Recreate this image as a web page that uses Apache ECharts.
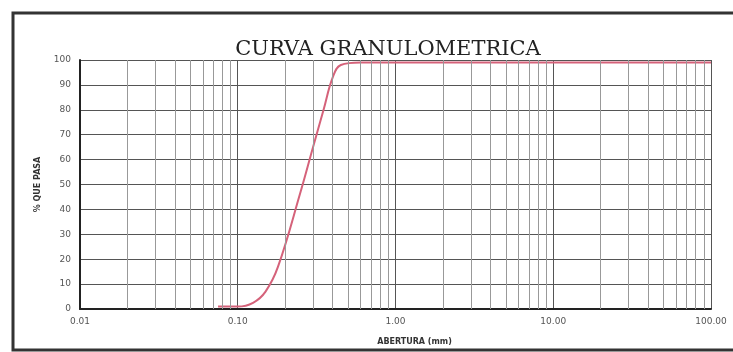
<!DOCTYPE html>
<html>
<head>
<meta charset="utf-8">
<script src="https://cdn.jsdelivr.net/npm/echarts@6/dist/echarts.min.js"></script>
<style>
html,body{margin:0;padding:0;background:#fff;}
#chart{width:733px;height:352px;}
</style>
</head>
<body>
<div id="chart"></div>
<script>
// Data
const aperture = [0.075, 0.10, 0.125, 0.15, 0.18, 0.25, 0.30, 0.35, 0.40, 0.45, 0.60, 1.00, 10.00, 100.00];
const percentPassing = [1, 1, 2.5, 7, 17, 47, 65, 80, 93, 98, 99, 99, 99, 99];
const yTicks = [0, 10, 20, 30, 40, 50, 60, 70, 80, 90, 100];
const minorGridValues = [
  0.02,0.03,0.04,0.05,0.06,0.07,0.08,0.09,
  0.2,0.3,0.4,0.5,0.6,0.7,0.8,0.9,
  2,3,4,5,6,7,8,9,
  20,30,40,50,60,70,80,90
];
const titleText = 'CURVA GRANULOMETRICA';
const yName = '% QUE PASA';
const xName = 'ABERTURA (mm)';

const chart = echarts.init(document.getElementById('chart'), null, {renderer: 'canvas'});
chart.setOption({
  backgroundColor: '#ffffff',
  animation: false,
  title: {
    text: titleText,
    left: 383,
    textAlign: 'center',
    top: 34,
    textStyle: {fontFamily: 'DejaVu Serif', fontSize: 21, fontWeight: 'normal', color: '#222'}
  },
  graphic: [{
    type: 'rect',
    shape: {x: 13, y: 13, width: 740, height: 337},
    style: {fill: null, stroke: '#333', lineWidth: 3},
    silent: true
  }],
  grid: {left: 80, right: 22, top: 60, bottom: 43},
  xAxis: {
    type: 'log',
    logBase: 10,
    min: 0.01,
    max: 100,
    name: xName,
    nameLocation: 'middle',
    nameGap: 29,
    nameTextStyle: {fontFamily: 'DejaVu Sans', fontSize: 8, fontWeight: 'bold', color: '#333', padding: [0, 0, 0, 38]},
    axisLine: {show: true, lineStyle: {color: '#222', width: 2}},
    axisTick: {show: false},
    axisLabel: {
      fontFamily: 'DejaVu Sans', fontSize: 9, color: '#555', margin: 8,
      formatter: v => Number(v).toFixed(2)
    },
    splitLine: {show: true, lineStyle: {color: '#555', width: 1}}
  },
  yAxis: {
    type: 'value',
    min: 0,
    max: 100,
    interval: 10,
    name: yName,
    nameLocation: 'middle',
    nameGap: 38,
    nameRotate: 90,
    nameTextStyle: {fontFamily: 'DejaVu Sans', fontSize: 8, fontWeight: 'bold', color: '#333'},
    axisLine: {show: true, lineStyle: {color: '#222', width: 2}},
    axisTick: {show: false},
    axisLabel: {
      fontFamily: 'DejaVu Sans', fontSize: 9, color: '#555', margin: 9,
      formatter: v => yTicks.indexOf(v) >= 0 ? String(v) : ''
    },
    splitLine: {show: true, lineStyle: {color: '#555', width: 1}}
  },
  series: [
    {
      type: 'line',
      data: [],
      z: 1,
      silent: true,
      markLine: {
        silent: true,
        symbol: 'none',
        label: {show: false},
        emphasis: {disabled: true},
        lineStyle: {type: 'solid', color: '#999', width: 1},
        data: minorGridValues.map(v => ({xAxis: v}))
      }
    },
    {
      type: 'line',
      z: 3,
      smooth: 0.4,
      symbol: 'none',
      data: aperture.map((a, i) => [a, percentPassing[i]]),
      lineStyle: {color: '#d5627a', width: 2}
    }
  ]
});
</script>
</body>
</html>
